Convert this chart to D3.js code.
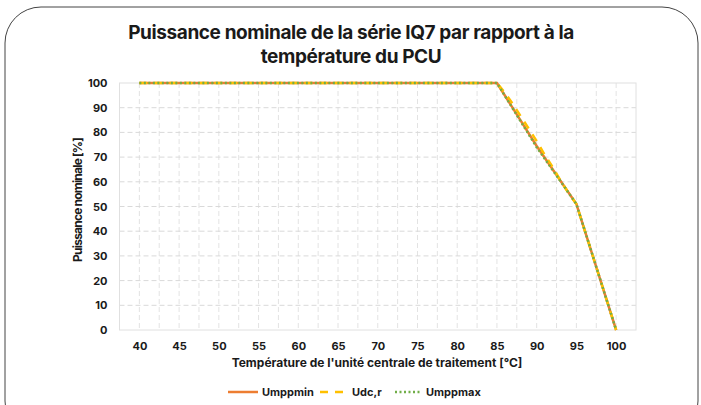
<!DOCTYPE html>
<html>
<head>
<meta charset="utf-8">
<script src="https://cdn.jsdelivr.net/npm/d3@7"></script>
<style>
  body { margin: 0; background: #fff; }
  text { font-family: Inter, "Open Sans", sans-serif; fill: #1a1a1a; }
</style>
</head>
<body>
<script>
// chart size
var w = 701, h = 405;

// data
var tempMin = [40, 85, 90, 95, 100];
var umppmin = [100, 100, 74.5, 51, 0];

var tempDc = [40, 85, 86, 87, 88, 89, 90, 91, 92, 93, 94, 95, 100];
var udcr = [100, 100, 96, 91.5, 86.5, 81.5, 76.5, 71, 66, 60.5, 55.5, 51, 0];

var tempMax = [40, 85, 90, 95, 100];
var umppmax = [100, 100, 74, 51, 0];

var xTicks = [40, 45, 50, 55, 60, 65, 70, 75, 80, 85, 90, 95, 100];
var yTicks = [0, 10, 20, 30, 40, 50, 60, 70, 80, 90, 100];

var series = [
  {name: "Umppmin", x: tempMin, y: umppmin, color: "#ED7D31", dash: null},
  {name: "Udc,r", x: tempDc, y: udcr, color: "#FFC000", dash: "8,7"},
  {name: "Umppmax", x: tempMax, y: umppmax, color: "#70AD47", dash: "2,2.5"}
];

var svg = d3.select("body").append("svg")
  .attr("width", w)
  .attr("height", h);

// rounded frame round the whole card
svg.append("rect")
  .attr("x", 5).attr("y", 7)
  .attr("width", 693).attr("height", 430)
  .attr("rx", 36).attr("ry", 36)
  .style("fill", "none")
  .style("stroke", "#444")
  .style("stroke-width", 1);

// title, two lines
var title = svg.append("text")
  .attr("text-anchor", "middle")
  .style("font-size", "19px")
  .style("font-weight", 700)
  .style("letter-spacing", "-0.4px");
title.append("tspan").attr("x", 351).attr("y", 39)
  .text("Puissance nominale de la série IQ7 par rapport à la");
title.append("tspan").attr("x", 351).attr("y", 63)
  .text("température du PCU");

// scales
var x = d3.scaleLinear().domain([37.5, 102.5]).range([119.5, 636]);
var y = d3.scaleLinear().domain([0, 100]).range([330, 83]);

var grid = svg.append("g");

// vertical grid every 2.5 degrees
grid.selectAll(".vgrid")
  .data(d3.range(40, 102.5, 2.5))
  .enter().append("line")
  .attr("class", "vgrid")
  .attr("x1", function(d){ return x(d); })
  .attr("x2", function(d){ return x(d); })
  .attr("y1", y(100)).attr("y2", y(0))
  .style("stroke", "#e3e3e3")
  .style("stroke-dasharray", "5,3");

// horizontal grid
grid.selectAll(".hgrid")
  .data(yTicks.slice(1, -1))
  .enter().append("line")
  .attr("class", "hgrid")
  .attr("x1", x(37.5)).attr("x2", x(102.5))
  .attr("y1", function(d){ return y(d); })
  .attr("y2", function(d){ return y(d); })
  .style("stroke", "#d9d9d9")
  .style("stroke-dasharray", "5,3");

// plot border
svg.append("rect")
  .attr("x", x(37.5)).attr("y", y(100))
  .attr("width", x(102.5) - x(37.5))
  .attr("height", y(0) - y(100))
  .style("fill", "none")
  .style("stroke", "#e0e0e0");

// axes (labels only)
var xAxis = svg.append("g")
  .attr("transform", "translate(0," + y(0) + ")")
  .call(d3.axisBottom(x).tickValues(xTicks).tickSize(0).tickPadding(12));
var yAxis = svg.append("g")
  .attr("transform", "translate(" + x(37.5) + ",0)")
  .call(d3.axisLeft(y).tickValues(yTicks).tickSize(0).tickPadding(12));
[xAxis, yAxis].forEach(function(a){
  a.select(".domain").remove();
  a.selectAll("text")
    .style("font-family", "Inter, sans-serif")
    .style("font-size", "11px")
    .style("font-weight", 700)
    .style("fill", "#1a1a1a");
});

// axis titles
svg.append("text")
  .attr("x", 377).attr("y", 367)
  .attr("text-anchor", "middle")
  .style("font-size", "12px")
  .style("font-weight", 700)
  .text("Température de l'unité centrale de traitement [°C]");

svg.append("text")
  .attr("transform", "translate(82,200) rotate(-90)")
  .attr("text-anchor", "middle")
  .style("font-size", "12px")
  .style("font-weight", 700)
  .style("letter-spacing", "-0.8px")
  .text("Puissance nominale [%]");

// lines
var line = d3.line()
  .x(function(d){ return x(d[0]); })
  .y(function(d){ return y(d[1]); });

svg.selectAll(".series")
  .data(series)
  .enter().append("path")
  .attr("class", "series")
  .attr("d", function(s){ return line(d3.zip(s.x, s.y)); })
  .style("fill", "none")
  .style("stroke", function(s){ return s.color; })
  .style("stroke-width", 2.5)
  .style("stroke-dasharray", function(s){ return s.dash; });

// legend
var legX = [228, 320, 395];
var legLen = [30, 28, 27];
var leg = svg.selectAll(".leg")
  .data(series)
  .enter().append("g")
  .attr("class", "leg")
  .attr("transform", function(s, i){ return "translate(" + legX[i] + ",392)"; });
leg.append("line")
  .attr("x1", 0).attr("x2", function(s, i){ return legLen[i]; })
  .style("stroke", function(s){ return s.color; })
  .style("stroke-width", 2.5)
  .style("stroke-dasharray", function(s){ return s.dash; });
leg.append("text")
  .attr("x", function(s, i){ return legLen[i] + 4; })
  .attr("y", 4)
  .style("font-size", "11px")
  .style("font-weight", 700)
  .text(function(s){ return s.name; });
</script>
</body>
</html>
